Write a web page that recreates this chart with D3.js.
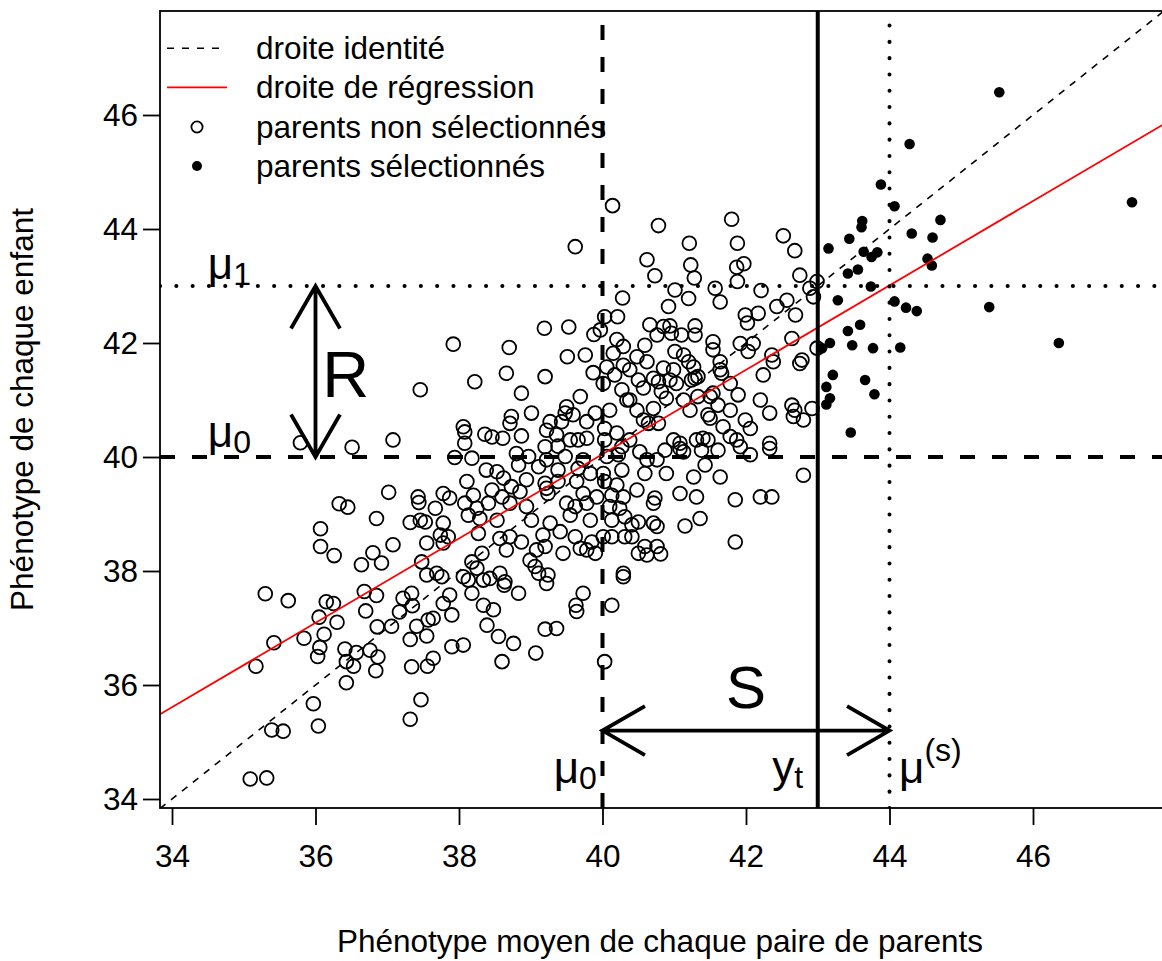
<!DOCTYPE html>
<html>
<head>
<meta charset="utf-8">
<script src="https://cdn.jsdelivr.net/npm/d3@7"></script>
<style>
  body { margin: 0; background: #fff; }
  text { font-family: "Liberation Sans", Arial, sans-serif; fill: #000; }
</style>
</head>
<body>
<svg id="chart" width="1162" height="961"></svg>
<script>
// parents non sélectionnés : [phénotype moyen des parents, phénotype de l'enfant]
const nonSelected = [
  [37.46,41.18],[35.79,40.25],[36.51,40.17],[37.08,40.30],[37.02,39.38],[36.33,39.18],[36.45,39.12],
  [37.43,39.30],[37.44,39.20],[36.85,38.92],[37.32,38.85],[37.46,38.89],[37.53,38.86],[36.07,38.74],
  [36.07,38.43],[36.26,38.27],[36.80,38.32],[37.08,38.46],[37.55,38.49],[36.64,38.11],[36.92,38.14],
  [37.48,38.16],[37.55,37.93],[35.30,37.60],[35.62,37.48],[36.15,37.46],[36.25,37.43],[36.68,37.64],
  [36.85,37.57],[37.22,37.52],[37.34,37.61],[37.35,37.39],[36.70,37.30],[36.05,37.19],[36.30,37.10],
  [37.17,37.28],[37.57,37.14],[36.86,37.02],[37.06,37.03],[37.41,37.03],[36.12,36.89],[35.84,36.82],
  [35.42,36.74],[37.32,36.80],[37.55,36.86],[36.06,36.66],[36.03,36.50],[36.41,36.63],[36.57,36.57],
  [36.76,36.61],[36.87,36.49],[36.43,36.41],[36.53,36.33],[36.84,36.25],[35.17,36.33],[37.34,36.32],
  [37.56,36.33],[36.43,36.04],[35.97,35.67],[37.47,35.74],[37.32,35.40],[36.04,35.28],[35.39,35.21],
  [35.55,35.19],[35.09,34.35],[35.32,34.37],[40.14,44.41],[39.62,43.69],[40.28,42.79],[40.03,42.46],
  [40.21,42.46],[39.19,42.26],[39.53,42.28],[39.88,42.15],[39.97,42.23],[40.20,42.06],[40.29,41.94],
  [37.92,41.98],[38.70,41.92],[39.51,41.76],[39.76,41.79],[40.15,41.82],[39.87,41.48],[40.06,41.58],
  [40.17,41.44],[40.29,41.61],[38.22,41.32],[38.66,41.47],[39.20,41.41],[40.01,41.29],[40.27,41.18],
  [40.34,41.00],[38.87,41.12],[39.69,41.06],[39.50,40.88],[39.48,40.77],[39.59,40.74],[39.90,40.77],
  [40.10,40.82],[39.01,40.77],[38.73,40.71],[38.71,40.59],[39.27,40.62],[39.43,40.62],[39.78,40.62],
  [38.06,40.53],[38.08,40.44],[38.36,40.40],[38.46,40.35],[38.61,40.33],[38.87,40.37],[39.22,40.47],
  [39.36,40.39],[39.55,40.30],[39.66,40.30],[39.78,40.33],[40.03,40.50],[40.03,40.30],[40.20,40.42],
  [40.27,40.18],[38.08,40.24],[39.20,40.18],[39.38,40.19],[38.18,39.98],[37.94,39.99],[38.80,40.06],
  [38.97,40.01],[39.22,39.95],[39.48,40.01],[39.73,39.95],[40.06,40.01],[40.22,40.04],[38.38,39.77],
  [38.53,39.74],[38.83,39.86],[39.11,39.83],[39.38,39.77],[39.66,39.80],[39.83,39.71],[40.01,39.71],
  [40.27,39.77],[38.11,39.57],[38.62,39.63],[38.73,39.48],[38.94,39.60],[39.20,39.54],[39.38,39.57],
  [39.64,39.57],[40.03,39.57],[40.20,39.51],[37.78,39.36],[37.87,39.28],[38.20,39.33],[38.46,39.42],
  [38.60,39.30],[38.85,39.39],[39.22,39.45],[39.24,39.36],[39.73,39.36],[39.92,39.30],[40.13,39.33],
  [40.29,39.30],[37.67,39.10],[38.08,39.19],[38.25,39.10],[38.41,39.19],[38.71,39.19],[38.94,39.13],
  [39.50,39.19],[39.62,39.13],[39.78,39.19],[40.10,39.13],[40.24,39.10],[37.78,38.84],[38.13,38.98],
  [38.29,38.92],[38.53,38.89],[39.01,38.89],[39.27,38.84],[39.55,38.98],[39.83,38.89],[40.13,38.89],
  [40.31,38.95],[37.74,38.63],[37.85,38.60],[37.78,38.49],[38.27,38.66],[38.57,38.57],[38.71,38.60],
  [38.87,38.51],[38.66,38.37],[38.32,38.31],[38.18,38.16],[38.25,38.05],[38.06,37.90],[38.13,37.84],
  [38.34,37.84],[38.43,37.87],[38.57,37.96],[38.64,37.81],[38.63,37.75],[38.83,37.61],[38.18,37.61],
  [39.08,38.37],[39.20,38.43],[39.17,38.63],[39.41,38.69],[38.99,38.19],[39.06,38.08],[39.11,37.96],
  [39.24,37.93],[39.22,37.78],[39.45,38.31],[39.62,38.60],[39.69,38.40],[39.78,38.37],[39.90,38.31],
  [39.85,38.51],[40.01,38.60],[40.13,38.60],[40.31,38.60],[40.29,37.96],[40.29,37.90],[37.69,37.96],
  [37.76,37.90],[37.87,37.58],[37.78,37.43],[37.64,37.17],[37.90,37.23],[38.34,37.40],[38.48,37.32],
  [38.39,37.05],[38.55,36.85],[38.76,36.73],[37.90,36.67],[38.06,36.70],[37.64,36.47],[38.60,36.41],
  [39.07,36.56],[39.20,36.98],[39.36,36.99],[39.73,37.61],[39.63,37.40],[39.64,37.29],[40.13,37.40],
  [40.03,36.41],[40.78,44.06],[41.80,44.17],[42.52,43.88],[41.21,43.75],[41.88,43.75],[42.68,43.62],
  [40.62,43.46],[41.23,43.37],[41.87,43.33],[41.97,43.39],[40.73,43.18],[41.28,43.14],[41.88,43.08],
  [42.75,43.19],[42.99,43.08],[41.01,42.93],[41.57,42.96],[42.21,42.92],[42.89,42.96],[41.20,42.78],
  [41.64,42.72],[42.57,42.75],[42.94,42.81],[40.92,42.64],[42.43,42.64],[41.99,42.49],[42.17,42.52],
  [42.69,42.49],[42.02,42.35],[40.66,42.32],[40.85,42.29],[40.94,42.30],[41.29,42.30],[40.59,41.96],
  [40.76,42.14],[40.96,42.17],[41.10,42.14],[41.29,42.14],[41.54,42.02],[41.54,41.88],[41.92,41.99],
  [42.10,41.99],[42.03,41.85],[42.64,42.08],[42.99,41.91],[40.48,41.76],[40.62,41.67],[41.01,41.85],
  [41.13,41.79],[41.20,41.67],[42.36,41.79],[42.38,41.67],[42.78,41.70],[42.75,41.64],[41.64,41.67],
  [40.38,41.53],[40.85,41.56],[40.99,41.53],[41.27,41.58],[41.64,41.53],[41.66,41.47],[42.24,41.44],
  [40.50,41.35],[40.71,41.38],[40.78,41.32],[40.94,41.35],[41.03,41.29],[41.29,41.38],[41.33,41.41],
  [41.24,41.35],[41.78,41.29],[40.38,41.00],[40.57,41.21],[40.82,41.15],[40.89,41.03],[41.13,41.00],
  [41.33,41.06],[41.54,41.12],[41.50,41.06],[41.89,41.09],[42.20,41.00],[42.64,40.91],[42.92,40.85],
  [40.48,40.82],[40.71,40.85],[41.22,40.82],[41.61,40.91],[41.78,40.82],[41.47,40.74],[41.50,40.68],
  [42.33,40.77],[42.68,40.82],[42.66,40.71],[42.80,40.65],[40.57,40.65],[40.64,40.59],[40.78,40.59],
  [41.68,40.53],[41.99,40.65],[42.06,40.50],[40.38,40.30],[40.99,40.30],[41.08,40.24],[41.31,40.30],
  [41.40,40.33],[41.47,40.30],[41.78,40.36],[41.87,40.30],[42.33,40.24],[42.33,40.15],[40.52,40.09],
  [40.87,40.12],[41.08,40.15],[41.13,40.09],[41.38,40.12],[41.61,40.12],[41.92,40.18],[42.06,40.04],
  [40.76,39.95],[40.62,39.95],[41.43,39.86],[40.89,39.71],[41.27,39.65],[41.64,39.65],[42.80,39.68],
  [40.59,39.71],[40.48,39.42],[41.08,39.36],[41.31,39.30],[41.85,39.25],[42.20,39.30],[42.36,39.30],
  [40.73,39.28],[40.71,39.19],[40.50,38.86],[40.71,38.84],[40.76,38.78],[40.41,38.81],[40.41,38.60],
  [41.15,38.79],[41.36,38.92],[41.85,38.51],[40.59,38.43],[40.76,38.43],[40.50,38.31],[40.62,38.28],
  [40.81,38.30]
];

// parents sélectionnés (phénotype moyen > seuil)
const selected = [
  [45.53,46.40],[44.28,45.49],[43.88,44.78],[44.07,44.40],[43.62,44.14],[43.61,44.03],[44.71,44.16],
  [43.44,43.83],[43.15,43.66],[44.31,43.92],[44.60,43.85],[43.64,43.60],[43.83,43.59],[43.75,43.51],
  [43.56,43.29],[43.42,43.22],[44.53,43.48],[44.59,43.36],[43.74,42.99],[43.28,42.75],[44.07,42.73],
  [44.23,42.62],[44.38,42.56],[45.39,42.63],[47.38,44.47],[43.59,42.32],[43.42,42.21],[43.17,42.00],
  [43.48,41.96],[43.77,41.91],[44.15,41.92],[46.36,42.00],[43.06,41.91],[43.21,41.44],[43.12,41.23],
  [43.17,41.03],[43.12,40.92],[43.66,41.35],[43.79,41.10],[43.46,40.43]
];

const xTicks = [34, 36, 38, 40, 42, 44, 46];
const yTicks = [34, 36, 38, 40, 42, 44, 46];

const mu0 = 40;      // moyenne de la population
const mu1 = 43;      // moyenne des enfants des sélectionnés
const muS = 44;      // moyenne des parents sélectionnés
const yt = 43;       // seuil de troncature
const regIntercept = 10.45, regSlope = 0.74;
const arrowSY = 35.2;   // hauteur de la flèche S
const arrowRX = 36;     // abscisse de la flèche R

const legendLabels = ["droite identité", "droite de régression", "parents non sélectionnés", "parents sélectionnés"];

const svg = d3.select("#chart");
const x = d3.scaleLinear().domain([34, 46]).range([172, 1033]);
const y = d3.scaleLinear().domain([34, 46]).range([799, 115]);

const box = { left: 160, top: 11, right: 1166, bottom: 808 };
const xLo = x.invert(box.left), xHi = x.invert(box.right);
const fs = "31.5px";

svg.append("clipPath").attr("id", "plotclip")
  .append("rect")
  .attr("x", box.left).attr("y", box.top)
  .attr("width", box.right - box.left).attr("height", box.bottom - box.top);

const plot = svg.append("g").attr("clip-path", "url(#plotclip)");

// points
plot.selectAll("circle.open")
  .data(nonSelected)
  .enter()
  .append("circle")
  .attr("class", "open")
  .attr("cx", d => x(d[0]))
  .attr("cy", d => y(d[1]))
  .attr("r", 6.9)
  .attr("fill", "none")
  .attr("stroke", "#000")
  .attr("stroke-width", 1.8);

plot.selectAll("circle.full")
  .data(selected)
  .enter()
  .append("circle")
  .attr("class", "full")
  .attr("cx", d => x(d[0]))
  .attr("cy", d => y(d[1]))
  .attr("r", 5.3)
  .attr("fill", "#000");

// droite identité
plot.append("line")
  .attr("x1", x(xLo)).attr("y1", y(xLo))
  .attr("x2", x(xHi)).attr("y2", y(xHi))
  .attr("stroke", "#000").attr("stroke-width", 1.6)
  .attr("stroke-dasharray", "7,7");

// droite de régression
plot.append("line")
  .attr("x1", x(xLo)).attr("y1", y(regIntercept + regSlope * xLo))
  .attr("x2", x(xHi)).attr("y2", y(regIntercept + regSlope * xHi))
  .attr("stroke", "#ff0000").attr("stroke-width", 1.8);

// lignes de référence
const hline = (v, dash, cap) => plot.append("line")
  .attr("x1", box.left).attr("x2", box.right)
  .attr("y1", y(v)).attr("y2", y(v))
  .attr("stroke", "#000").attr("stroke-width", 4)
  .attr("stroke-dasharray", dash).attr("stroke-linecap", cap);
const vline = (v, dash, cap) => plot.append("line")
  .attr("y1", box.bottom).attr("y2", box.top)
  .attr("x1", x(v)).attr("x2", x(v))
  .attr("stroke", "#000").attr("stroke-width", 4)
  .attr("stroke-dasharray", dash).attr("stroke-linecap", cap);

hline(mu0, "15,17", "butt");
vline(mu0, "15,17", "butt");
hline(mu1, "0.1,16.2", "round");
vline(muS, "0.1,16.2", "round");
vline(yt, null, "butt");

// flèches R et S
function arrow(x1, y1, x2, y2) {
  const p1 = [x(x1), y(y1)], p2 = [x(x2), y(y2)];
  const ang = Math.atan2(p2[1] - p1[1], p2[0] - p1[0]);
  const len = 49, spread = Math.PI / 6;
  let d = `M${p1[0]},${p1[1]}L${p2[0]},${p2[1]}`;
  [[p1, ang], [p2, ang + Math.PI]].forEach(([p, a]) => {
    d += `M${p[0] + len * Math.cos(a - spread)},${p[1] + len * Math.sin(a - spread)}` +
         `L${p[0]},${p[1]}` +
         `L${p[0] + len * Math.cos(a + spread)},${p[1] + len * Math.sin(a + spread)}`;
  });
  plot.append("path").attr("d", d)
    .attr("fill", "none").attr("stroke", "#000").attr("stroke-width", 3.8);
}
arrow(arrowRX, mu1, arrowRX, mu0);
arrow(mu0, arrowSY, muS, arrowSY);

// textes
svg.append("text").attr("x", x(36.42)).attr("y", y(41.05))
  .attr("text-anchor", "middle").style("font-size", "65px").text("R");
svg.append("text").attr("x", x(42.0)).attr("y", y(35.6))
  .attr("text-anchor", "middle").style("font-size", "60px").text("S");

const symLabels = [
  { base: "μ", sub: "1", sup: null, cx: 34.8, cy: 43.12 },
  { base: "μ", sub: "0", sup: null, cx: 34.8, cy: 40.18 },
  { base: "μ", sub: "0", sup: null, cx: 39.62, cy: 34.28 },
  { base: "y", sub: "t", sup: null, cx: 42.58, cy: 34.30 },
  { base: "μ", sub: null, sup: "(s)", cx: 44.57, cy: 34.28 }
];
symLabels.forEach(l => {
  const t = svg.append("text").attr("x", x(l.cx)).attr("y", y(l.cy))
    .attr("text-anchor", "middle").style("font-size", "44px");
  t.append("tspan").text(l.base);
  if (l.sub) t.append("tspan").attr("dy", 6).style("font-size", "32px").text(l.sub);
  if (l.sup) t.append("tspan").attr("dy", -22).style("font-size", "32px").text(l.sup);
});

// cadre
svg.append("rect")
  .attr("x", box.left).attr("y", box.top)
  .attr("width", box.right - box.left).attr("height", box.bottom - box.top)
  .attr("fill", "none").attr("stroke", "#000").attr("stroke-width", 1.8);

// axes
const xAxis = svg.append("g")
  .attr("transform", `translate(0,${box.bottom})`)
  .call(d3.axisBottom(x).tickValues(xTicks).tickSize(17).tickPadding(20).tickFormat(d3.format("d")));
const yAxis = svg.append("g")
  .attr("transform", `translate(${box.left},0)`)
  .call(d3.axisLeft(y).tickValues(yTicks).tickSize(17).tickPadding(5).tickFormat(d3.format("d")));
[xAxis, yAxis].forEach(g => {
  g.select(".domain").remove();
  g.selectAll("line").attr("stroke", "#000").attr("stroke-width", 1.8);
  g.selectAll("text").style("font-size", fs).attr("font-family", null);
});

// titres des axes
svg.append("text").attr("x", (box.left + 1160) / 2).attr("y", 952)
  .attr("text-anchor", "middle").style("font-size", fs)
  .text("Phénotype moyen de chaque paire de parents");
svg.append("text")
  .attr("transform", `translate(33,${(box.top + box.bottom) / 2}) rotate(-90)`)
  .attr("text-anchor", "middle").style("font-size", fs)
  .text("Phénotype de chaque enfant");

// légende
const legendRows = [48.3, 87.3, 127, 166];
const lg = svg.append("g");
lg.append("line").attr("x1", 167).attr("x2", 227).attr("y1", legendRows[0]).attr("y2", legendRows[0])
  .attr("stroke", "#000").attr("stroke-width", 1.6).attr("stroke-dasharray", "7,8");
lg.append("line").attr("x1", 167).attr("x2", 227).attr("y1", legendRows[1]).attr("y2", legendRows[1])
  .attr("stroke", "#ff0000").attr("stroke-width", 1.8);
lg.append("circle").attr("cx", 197).attr("cy", legendRows[2]).attr("r", 5.6)
  .attr("fill", "none").attr("stroke", "#000").attr("stroke-width", 1.8);
lg.append("circle").attr("cx", 197).attr("cy", legendRows[3]).attr("r", 5)
  .attr("fill", "#000");
lg.selectAll("text.leg")
  .data(legendLabels)
  .enter()
  .append("text")
  .attr("class", "leg")
  .attr("x", 256)
  .attr("y", (d, i) => legendRows[i] + 11)
  .style("font-size", fs)
  .text(d => d);
</script>
</body>
</html>
